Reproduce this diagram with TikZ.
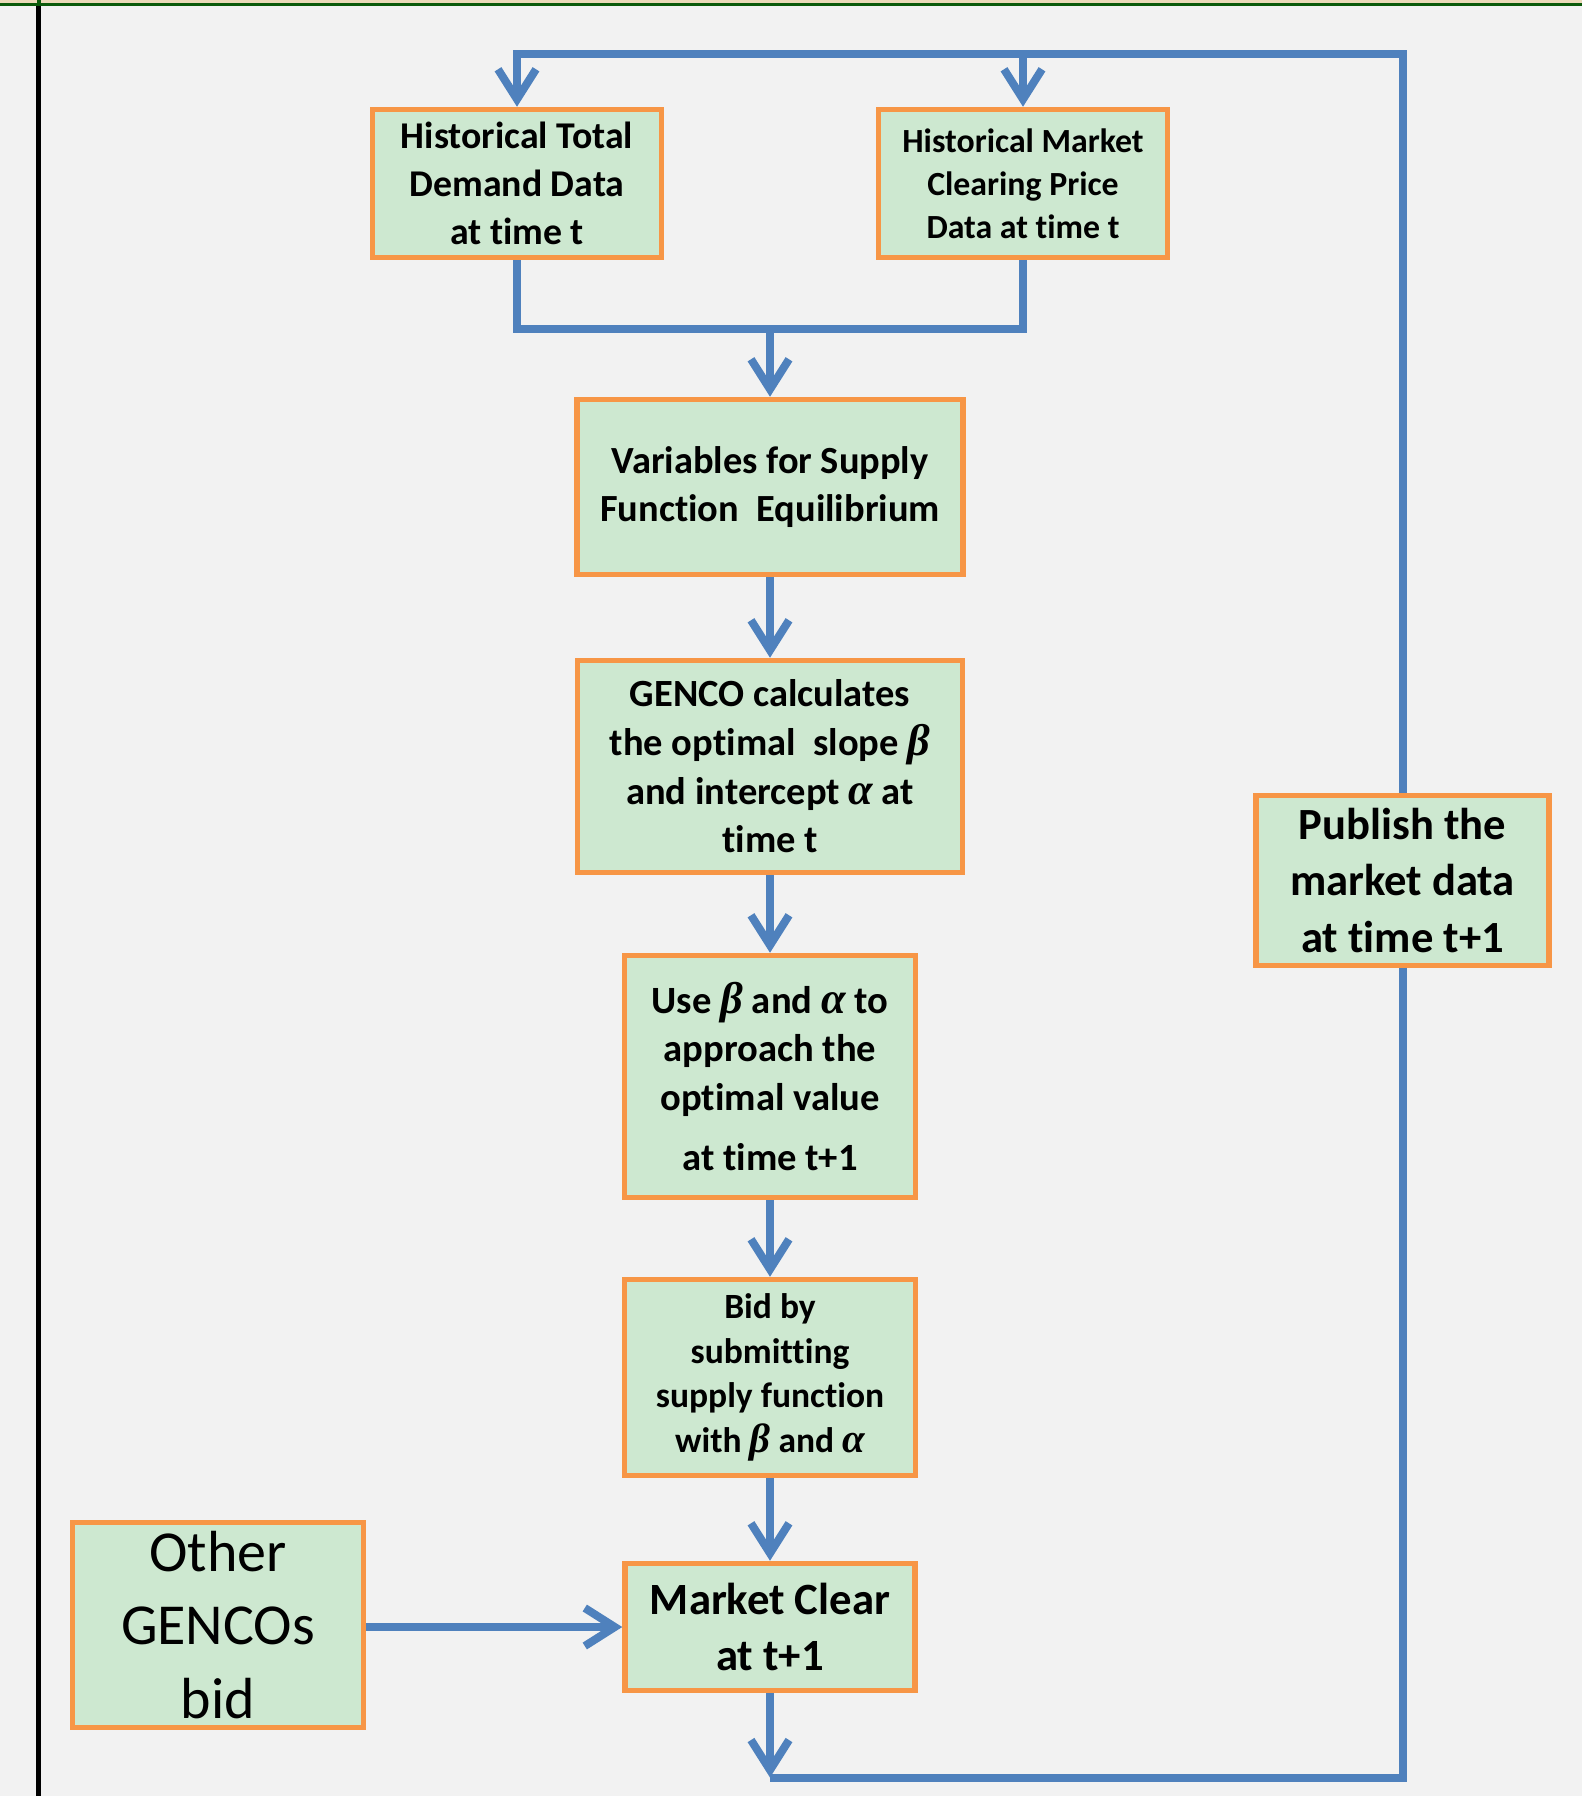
\documentclass[tikz,border=0pt]{standalone}
\usepackage{fontspec}
\setmainfont{Carlito}[Ligatures=NoCommon]
\newfontfamily\grkfont{Liberation Serif}[Scale=1.15]
\usetikzlibrary{arrows.meta}

\definecolor{pagegray}{HTML}{F2F2F2}
\definecolor{boxgreen}{HTML}{CDE8D0}
\definecolor{boxorange}{HTML}{F79646}
\definecolor{flowblue}{HTML}{4F81BD}
\definecolor{stripbeige}{HTML}{EBDAB9}
\definecolor{stripgreen}{HTML}{0B5A0B}

% bold italic Greek symbols used in the box texts
\newcommand\gbeta{{\grkfont\bfseries\itshape β}}
\newcommand\galpha{{\grkfont\bfseries\itshape α}}
\newcommand\fsz[2]{\fontsize{#1}{#2}\selectfont}

\begin{document}
\begin{tikzpicture}[x=1pt,y=-1pt,
  box/.style={draw=boxorange, fill=boxgreen, line width=5.5pt, inner sep=0pt, align=center},
  flow/.style={draw=flowblue, line width=8pt},
  tip/.style={-{Straight Barb[length=30pt,width=38pt]}}]

% page background and frame lines
\fill[pagegray] (0,0) rectangle (1582,1796);
\useasboundingbox (0,0) rectangle (1582,1796);
\fill[stripbeige] (0,0) rectangle (1582,3.4);
\fill[stripgreen] (0,3.4) rectangle (1582,5.6);
\fill[black] (36,5.6) rectangle (41.3,1796);
\fill[stripgreen] (36.5,0) rectangle (40.5,5.6);

% process boxes
\node[box, minimum width=289pt, minimum height=148pt, font=\bfseries\fsz{37.8}{48}] (htd) at (517,183.5)
  {Historical Total\\Demand Data\\at time t};
\node[box, minimum width=289pt, minimum height=148pt, font=\bfseries\fsz{33.8}{43}] (hmcp) at (1023,183.5)
  {Historical Market\\Clearing Price\\Data at time t};
\node[box, minimum width=386pt, minimum height=175pt, font=\bfseries\fsz{38.4}{48}] (vsfe) at (770,487)
  {Variables for Supply\\Function\ \ Equilibrium};
\node[box, minimum width=385pt, minimum height=212pt, font=\bfseries\fsz{38.5}{48.7}] (genco) at (770,766.5)
  {GENCO calculates\\the optimal\ \ slope \gbeta\\and intercept \galpha\ at\\time t};
\node[box, minimum width=291pt, minimum height=242pt, font=\bfseries\fsz{38.6}{48.5}] (use) at (770,1076.5)
  {Use \gbeta\ and \galpha\ to\\approach the\\optimal value\\[12pt]at time t+1};
\node[box, minimum width=291pt, minimum height=196pt, font=\bfseries\fsz{35.5}{44.7}] (bid) at (770,1377.5)
  {Bid by\\submitting\\supply function\\with \gbeta\ and \galpha};
\node[box, minimum width=290pt, minimum height=127pt, font=\bfseries\fsz{44.7}{56}] (mc) at (770,1627)
  {Market Clear\\at t+1};
\node[box, minimum width=291pt, minimum height=205pt, font=\fsz{58}{73.5}] (other) at (218,1625)
  {Other\\GENCOs\\bid};
\node[box, minimum width=293pt, minimum height=170pt, font=\bfseries\fsz{44.6}{56.5}] (pub) at (1402.5,880.5)
  {Publish the\\market data\\at time t+1};

% routing points of the feedback loop and the merge
\coordinate (tl) at (517,54);
\coordinate (tm) at (1023,54);
\coordinate (tr) at (1402.5,54);
\coordinate (bm) at (770,1777.5);
\coordinate (br) at (1402.5,1777.5);
\coordinate (mj) at (770,329);

% connectors
\draw[flow, tip] (pub.north) -- (tr) -- (tl) -- (htd.north);
\draw[flow, tip] (tm) -- (hmcp.north);
\draw[flow] (htd.south) |- (mj) -| (hmcp.south);
\draw[flow, tip] (mj) -- (vsfe.north);
\draw[flow, tip] (vsfe.south) -- (genco.north);
\draw[flow, tip] (genco.south) -- (use.north);
\draw[flow, tip] (use.south) -- (bid.north);
\draw[flow, tip] (bid.south) -- (mc.north);
\draw[flow, tip] (other.east |- mc.west) -- (mc.west);
\draw[flow, tip] (mc.south) -- (bm);
\draw[flow] (bm) -- (br) -- (pub.south);
\end{tikzpicture}
\end{document}
